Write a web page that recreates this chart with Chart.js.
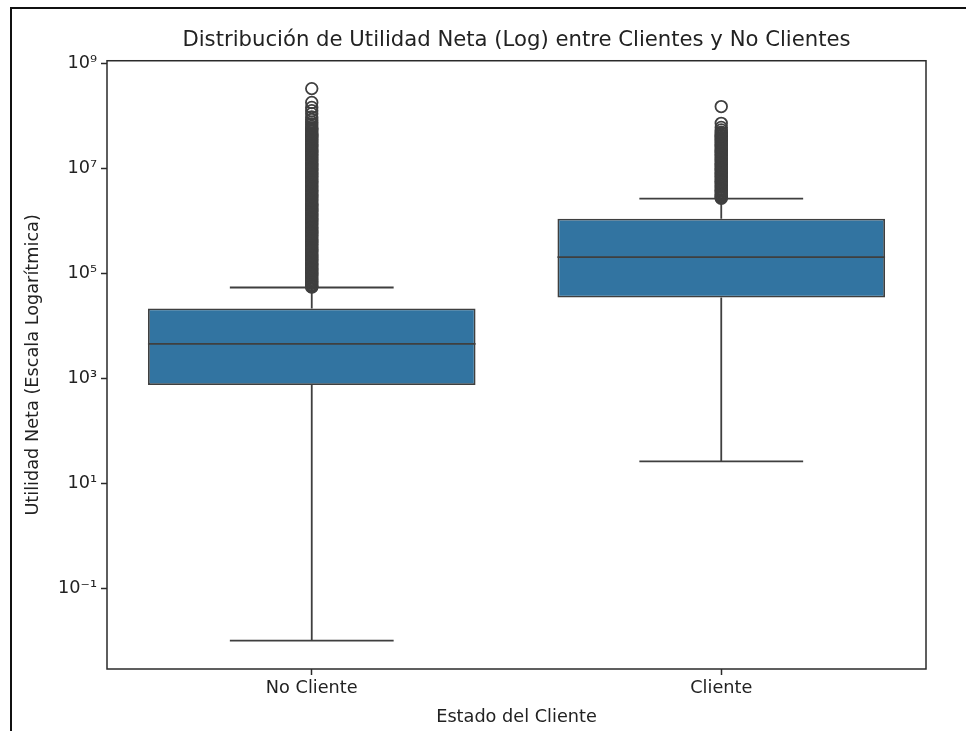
<!DOCTYPE html>
<html>
<head>
<meta charset="utf-8">
<script src="https://cdn.jsdelivr.net/npm/chart.js@4.4.1/dist/chart.umd.min.js"></script>
<style>
  html, body { margin: 0; padding: 0; background: #ffffff; }
  #wrap { position: relative; width: 966px; height: 731px; overflow: hidden; background: #ffffff; }
  #wrap canvas { position: absolute; left: 0; top: 0; }
  #frame { position: absolute; left: 10px; top: 7px; width: 980px; height: 760px;
           border-left: 2px solid #111111; border-top: 2px solid #111111; pointer-events: none; }
</style>
</head>
<body>
<div id="wrap">
  <canvas id="chart" width="966" height="731"></canvas>
  <div id="frame"></div>
</div>
<script>
// Box-plot summary per client group (Utilidad Neta)
const categories = ['No Cliente', 'Cliente'];
const q1Values = [750, 34700];
const medianValues = [4550, 205000];
const q3Values = [21500, 1100000];
const whiskerLowValues = [0.0102, 26.4];
const whiskerHighValues = [54000, 2650000];

// Outlying observations above the upper whisker
const outliersNoCliente = [
  3.3e8, 1.8e8, 1.45e8, 1.25e8, 1.1e8, 9.5e7, 8.5e7, 7.6e7, 6.9e7, 6.3e7,
  5.9e7, 5.6e7, 5.3e7, 5.0e7, 4.7e7,
  4.5e7, 4.3e7, 4.1e7, 3.9e7, 3.7e7, 3.5e7, 3.3e7, 3.1e7, 2.95e7, 2.8e7,
  2.65e7, 2.5e7, 2.35e7, 2.2e7, 2.1e7, 2.0e7, 1.9e7, 1.8e7, 1.7e7, 1.6e7,
  1.52e7, 1.44e7, 1.36e7, 1.28e7, 1.21e7, 1.15e7, 1.09e7, 1.03e7,
  9.7e6, 9.2e6, 8.7e6, 8.2e6, 7.7e6, 7.3e6, 6.9e6, 6.5e6, 6.1e6, 5.8e6,
  5.5e6, 5.2e6, 4.9e6, 4.6e6, 4.35e6, 4.1e6, 3.9e6, 3.7e6, 3.5e6, 3.3e6,
  3.1e6, 2.95e6, 2.8e6, 2.65e6, 2.5e6, 2.35e6, 2.2e6, 2.1e6, 2.0e6, 1.9e6,
  1.8e6, 1.7e6, 1.6e6, 1.52e6, 1.44e6, 1.36e6, 1.28e6, 1.21e6, 1.15e6, 1.09e6,
  1.03e6,
  9.7e5, 9.2e5, 8.7e5, 8.2e5, 7.7e5, 7.3e5, 6.9e5, 6.5e5, 6.1e5, 5.8e5,
  5.5e5, 5.2e5, 4.9e5, 4.6e5, 4.35e5, 4.1e5, 3.9e5, 3.7e5, 3.5e5, 3.3e5,
  3.1e5, 2.95e5, 2.8e5, 2.65e5, 2.5e5, 2.35e5, 2.2e5, 2.1e5, 2.0e5, 1.9e5,
  1.8e5, 1.7e5, 1.6e5, 1.52e5, 1.44e5, 1.36e5, 1.28e5, 1.21e5, 1.15e5, 1.09e5,
  1.03e5,
  9.7e4, 9.2e4, 8.7e4, 8.2e4, 7.7e4, 7.3e4, 6.9e4, 6.5e4, 6.1e4, 5.8e4,
  5.6e4, 5.5e4
];
const outliersCliente = [
  1.5e8, 7.2e7, 6.0e7, 5.4e7, 4.9e7, 4.6e7, 4.3e7, 4.1e7, 3.9e7, 3.7e7,
  3.5e7, 3.3e7, 3.1e7, 2.95e7, 2.8e7, 2.65e7, 2.5e7, 2.35e7, 2.2e7, 2.1e7,
  2.0e7, 1.9e7, 1.8e7, 1.7e7, 1.6e7, 1.52e7, 1.44e7, 1.36e7, 1.28e7, 1.21e7,
  1.15e7, 1.09e7, 1.03e7,
  9.7e6, 9.2e6, 8.7e6, 8.2e6, 7.7e6, 7.3e6, 6.9e6, 6.5e6, 6.1e6, 5.8e6,
  5.5e6, 5.2e6, 4.9e6, 4.6e6, 4.35e6, 4.1e6, 3.9e6, 3.7e6, 3.5e6, 3.3e6,
  3.1e6, 2.95e6, 2.8e6, 2.7e6
];

// Log axis: range and labelled decades
const yAxisMin = 2.95e-3;
const yAxisMax = 1.12e9;
const yTickValues = [1e-1, 1e1, 1e3, 1e5, 1e7, 1e9];
const yTickLabels = ['10\u207B\u00B9', '10\u00B9', '10\u00B3', '10\u2075', '10\u2077', '10\u2079'];

const BOX_FILL = '#3274a1';
const LINE_GRAY = '#3f3f3f';
const INK = '#222222';
const FONT = "'DejaVu Sans', 'Liberation Sans', sans-serif";

// Whiskers, caps and medians drawn from the same scales as the boxes
const boxParts = {
  id: 'boxParts',
  beforeDatasetsDraw(chart) {
    const { ctx } = chart;
    const y = chart.scales.y;
    const meta = chart.getDatasetMeta(0);
    ctx.save();
    ctx.strokeStyle = LINE_GRAY;
    ctx.lineWidth = 1.8;
    meta.data.forEach((bar, i) => {
      const cx = bar.x;
      const half = bar.width / 4;
      const yLo = y.getPixelForValue(whiskerLowValues[i]);
      const yHi = y.getPixelForValue(whiskerHighValues[i]);
      const yQ1 = y.getPixelForValue(q1Values[i]);
      const yQ3 = y.getPixelForValue(q3Values[i]);
      ctx.beginPath();
      ctx.moveTo(cx, yQ1); ctx.lineTo(cx, yLo);
      ctx.moveTo(cx, yQ3); ctx.lineTo(cx, yHi);
      ctx.moveTo(cx - half, yLo); ctx.lineTo(cx + half, yLo);
      ctx.moveTo(cx - half, yHi); ctx.lineTo(cx + half, yHi);
      ctx.stroke();
    });
    ctx.restore();
  },
  afterDatasetDraw(chart, args) {
    if (args.index !== 0) return;
    const { ctx } = chart;
    const y = chart.scales.y;
    ctx.save();
    ctx.strokeStyle = LINE_GRAY;
    ctx.lineWidth = 1.8;
    args.meta.data.forEach((bar, i) => {
      const ym = y.getPixelForValue(medianValues[i]);
      ctx.beginPath();
      ctx.moveTo(bar.x - bar.width / 2, ym);
      ctx.lineTo(bar.x + bar.width / 2, ym);
      ctx.stroke();
    });
    ctx.restore();
  },
  afterDatasetsDraw(chart) {
    const { ctx, chartArea: a } = chart;
    ctx.save();
    ctx.strokeStyle = '#2a2a2a';
    ctx.lineWidth = 1.5;
    ctx.strokeRect(a.left, a.top, a.right - a.left, a.bottom - a.top);
    ctx.restore();
  }
};

const toPoints = (label, values) => values.map(v => ({ x: label, y: v }));

new Chart(document.getElementById('chart'), {
  type: 'bar',
  data: {
    labels: categories,
    datasets: [
      {
        type: 'bar',
        label: 'Utilidad Neta',
        data: categories.map((c, i) => [q1Values[i], q3Values[i]]),
        backgroundColor: BOX_FILL,
        borderColor: LINE_GRAY,
        borderWidth: 1.8,
        borderSkipped: false,
        barPercentage: 0.8,
        categoryPercentage: 1.0,
        order: 2
      },
      {
        type: 'line',
        label: 'Atípicos',
        data: toPoints(categories[0], outliersNoCliente).concat(toPoints(categories[1], outliersCliente)),
        showLine: false,
        pointStyle: 'circle',
        pointRadius: 5.8,
        pointBorderWidth: 1.8,
        pointBackgroundColor: 'rgba(0,0,0,0)',
        pointBorderColor: LINE_GRAY,
        order: 1
      }
    ]
  },
  options: {
    responsive: false,
    animation: false,
    devicePixelRatio: 1,
    layout: { padding: { left: 0, right: 40, top: 0, bottom: 0 } },
    plugins: {
      legend: { display: false },
      tooltip: { enabled: false },
      title: {
        display: true,
        fullSize: false,
        text: 'Distribución de Utilidad Neta (Log) entre Clientes y No Clientes',
        color: INK,
        font: { family: FONT, size: 21.2, weight: 'normal', lineHeight: 1.2 },
        padding: { top: 27.9, bottom: 7.4 }
      }
    },
    scales: {
      x: {
        type: 'category',
        offset: true,
        border: { display: false },
        grid: { display: true, drawOnChartArea: false, drawTicks: true, offset: false,
                tickLength: 6, tickWidth: 1.5, tickColor: '#2a2a2a' },
        ticks: { color: INK, font: { family: FONT, size: 17.7 }, padding: 3 },
        title: { display: true, text: 'Estado del Cliente', color: INK,
                 font: { family: FONT, size: 17.7, lineHeight: 1.2 }, padding: { top: 0, bottom: 2.5 } },
        afterFit: (s) => { s.height = 62; }
      },
      y: {
        type: 'logarithmic',
        min: yAxisMin,
        max: yAxisMax,
        border: { display: false },
        grid: { display: true, drawOnChartArea: false, drawTicks: true,
                tickLength: 6, tickWidth: 1.5, tickColor: '#2a2a2a' },
        afterBuildTicks: (s) => { s.ticks = yTickValues.map(v => ({ value: v })); },
        ticks: {
          color: INK,
          font: { family: FONT, size: 17.7 },
          padding: 4,
          autoSkip: false,
          callback: (value) => {
            const k = yTickValues.findIndex(t => Math.abs(Math.log10(t) - Math.log10(value)) < 1e-6);
            return k >= 0 ? yTickLabels[k] : '';
          }
        },
        title: { display: true, text: 'Utilidad Neta (Escala Logarítmica)', color: INK,
                 font: { family: FONT, size: 17.7, lineHeight: 1.2 }, padding: { top: 23, bottom: 0 } },
        afterFit: (s) => { s.width = 107; }
      }
    }
  },
  plugins: [boxParts]
});
</script>
</body>
</html>
